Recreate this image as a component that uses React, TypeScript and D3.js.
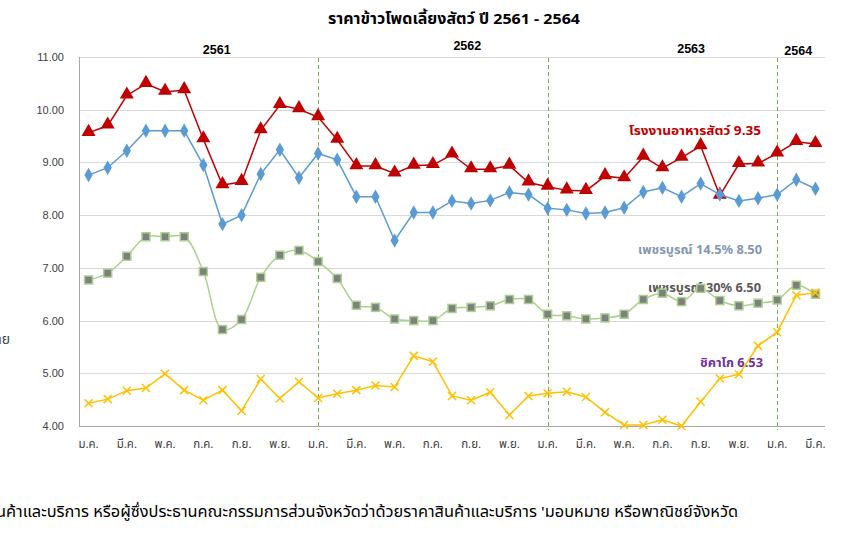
import React from "react";
import * as d3 from "d3";

// Feed corn prices (baht/kg), Jan 2561 - Mar 2564
const years = ["2561", "2562", "2563", "2564"];
const monthNames = ["ม.ค.", "ก.พ.", "มี.ค.", "เม.ย.", "พ.ค.", "มิ.ย.", "ก.ค.", "ส.ค.", "ก.ย.", "ต.ค.", "พ.ย.", "ธ.ค."];
const monthsPerYear = [12, 12, 12, 3];

const factory = [
  9.56, 9.70, 10.27, 10.49, 10.34, 10.37, 9.44, 8.57, 8.63, 9.61, 10.09, 10.01,
  9.86, 9.43, 8.93, 8.93, 8.79, 8.94, 8.95, 9.15, 8.87, 8.87, 8.94, 8.62,
  8.54, 8.47, 8.46, 8.74, 8.70, 9.11, 8.89, 9.09, 9.31, 8.37, 8.97, 8.98,
  9.17, 9.39, 9.35,
];
const phet145 = [
  8.76, 8.90, 9.22, 9.60, 9.60, 9.60, 8.95, 7.83, 8.00, 8.78, 9.24, 8.71,
  9.17, 9.05, 8.35, 8.35, 7.52, 8.05, 8.05, 8.27, 8.22, 8.28, 8.43, 8.39,
  8.13, 8.10, 8.03, 8.05, 8.14, 8.44, 8.52, 8.35, 8.60, 8.39, 8.27, 8.32,
  8.39, 8.67, 8.50,
];
const phet30 = [
  6.77, 6.90, 7.22, 7.59, 7.59, 7.59, 6.93, 5.83, 6.02, 6.82, 7.24, 7.33,
  7.12, 6.80, 6.29, 6.25, 6.03, 6.00, 6.00, 6.23, 6.25, 6.28, 6.40, 6.40,
  6.12, 6.09, 6.03, 6.05, 6.12, 6.40, 6.52, 6.36, 6.61, 6.38, 6.28, 6.33,
  6.39, 6.67, 6.50,
];
const chicago = [
  4.43, 4.51, 4.67, 4.72, 4.99, 4.68, 4.49, 4.68, 4.29, 4.89, 4.52, 4.84,
  4.53, 4.61, 4.68, 4.77, 4.74, 5.33, 5.22, 4.57, 4.49, 4.64, 4.21, 4.57,
  4.62, 4.65, 4.55, 4.26, 4.02, 4.02, 4.12, 4.00, 4.46, 4.90, 4.98, 5.52,
  5.78, 6.48, 6.53,
];
const yTicks = [4, 5, 6, 7, 8, 9, 10, 11];

const categories: string[] = [];
years.forEach((yr, yi) => {
  for (let m = 0; m < monthsPerYear[yi]; m++) categories.push(`${monthNames[m]} ${yr}`);
});

const width = 864;
const height = 551;
const plot = { left: 79, right: 825, top: 57, bottom: 426 };
const thai = "'Noto Sans', 'Noto Sans Thai', Tahoma, 'DejaVu Sans', sans-serif";
const latin = "'Liberation Sans', Arial, sans-serif";

const App = () => {
  const x = d3.scaleBand<string>().domain(categories).range([plot.left, plot.right]);
  const cx = (i: number) => (x(categories[i]) as number) + x.bandwidth() / 2;
  const y = d3.scaleLinear().domain([4, 11]).range([plot.bottom, plot.top]);

  const straight = d3.line<number>().x((_, i) => cx(i)).y((d) => y(d));
  const smooth = d3.line<number>().x((_, i) => cx(i)).y((d) => y(d)).curve(d3.curveCatmullRom.alpha(0.5));

  const tri = d3.symbol().type(d3.symbolTriangle).size(85)() as string;
  const dia = d3.symbol().type(d3.symbolDiamond).size(60)() as string;

  // index of January in each year, and of each year's label
  const janIdx = [12, 24, 36];
  const yearLabels = [
    { text: "2561", i: 6.7, y: 54 },
    { text: "2562", i: 19.8, y: 50 },
    { text: "2563", i: 31.5, y: 53 },
    { text: "2564", i: 37.1, y: 55 },
  ];

  return (
    <svg width={width} height={height} style={{ position: "absolute", left: 0, top: 0, background: "#fff" }}>
      <text x={328} y={24} fontFamily={thai} fontWeight="bold" fontSize={15} fill="#000" textLength={252} lengthAdjust="spacingAndGlyphs">
        ราคาข้าวโพดเลี้ยงสัตว์ ปี 2561 - 2564
      </text>

      {/* grid */}
      {yTicks.map((t) => (
        <g key={t}>
          {t > 4 && <line x1={plot.left} x2={plot.right} y1={Math.round(y(t)) + 0.5} y2={Math.round(y(t)) + 0.5} stroke="#D9D9D9" strokeWidth={1} />}
          <text x={64} y={y(t) + 4} textAnchor="end" fontFamily={latin} fontSize={11} fill="#404040">
            {t.toFixed(2)}
          </text>
        </g>
      ))}
      <line x1={plot.left + 0.5} x2={plot.left + 0.5} y1={plot.top} y2={plot.bottom} stroke="#A6A6A6" />
      <line x1={plot.left} x2={plot.right} y1={plot.bottom + 0.5} y2={plot.bottom + 0.5} stroke="#A6A6A6" />

      {/* month labels */}
      {categories.map((c, i) =>
        i % 2 === 0 ? (
          <text key={c} x={cx(i)} y={448} textAnchor="middle" fontFamily={thai} fontSize={11.5} fill="#404040">
            {c.split(" ")[0]}
          </text>
        ) : null
      )}

      {/* year separators */}
      {janIdx.map((i) => (
        <line key={i} x1={Math.round(cx(i)) + 0.5} x2={Math.round(cx(i)) + 0.5} y1={58} y2={430} stroke="#70AD47" strokeWidth={1} strokeDasharray="4,3" />
      ))}
      {yearLabels.map((l) => (
        <text key={l.text} x={plot.left + x.bandwidth() * (l.i + 0.5)} y={l.y} textAnchor="middle" fontFamily={latin} fontWeight="bold" fontSize={12.5} fill="#000">
          {l.text}
        </text>
      ))}

      {/* series labels */}
      <text x={629} y={135} fontFamily={thai} fontWeight="bold" fontSize={12.5} fill="#C00000" textLength={132} lengthAdjust="spacingAndGlyphs">โรงงานอาหารสัตว์  9.35</text>
      <text x={638} y={254} fontFamily={thai} fontWeight="bold" fontSize={12.5} fill="#8497B0" textLength={124} lengthAdjust="spacingAndGlyphs">เพชรบูรณ์ 14.5%  8.50</text>
      <text x={648} y={292} fontFamily={thai} fontWeight="bold" fontSize={12.5} fill="#595959" textLength={113} lengthAdjust="spacingAndGlyphs">เพชรบูรณ์ 30%  6.50</text>
      <text x={700} y={367} fontFamily={thai} fontWeight="bold" fontSize={12.5} fill="#7030A0" textLength={63} lengthAdjust="spacingAndGlyphs">ชิคาโก 6.53</text>

      {/* red: factory */}
      <path d={straight(factory) as string} fill="none" stroke="#C00000" strokeWidth={1.5} />
      {factory.map((v, i) => (
        <path key={i} d={tri} transform={`translate(${cx(i)},${y(v) - 1})`} fill="#C00000" />
      ))}

      {/* blue: Phetchabun 14.5% */}
      <path d={straight(phet145) as string} fill="none" stroke="#5B9BD5" strokeWidth={1.5} />
      {phet145.map((v, i) => (
        <path key={i} d={dia} transform={`translate(${cx(i)},${y(v)})`} fill="#5B9BD5" />
      ))}

      {/* green: Phetchabun 30% */}
      <path d={smooth(phet30) as string} fill="none" stroke="#A9D18E" strokeWidth={1.5} />
      {phet30.map((v, i) => (
        <rect key={i} x={cx(i) - 4} y={y(v) - 4} width={8} height={8} fill="#7F7F7F" stroke="#A9D18E" strokeWidth={1.5} />
      ))}

      {/* yellow: Chicago */}
      <path d={straight(chicago) as string} fill="none" stroke="#FFC000" strokeWidth={1.5} />
      {chicago.map((v, i) => (
        <path key={i} d={`M${cx(i) - 4},${y(v) - 4}L${cx(i) + 4},${y(v) + 4}M${cx(i) - 4},${y(v) + 4}L${cx(i) + 4},${y(v) - 4}`} stroke="#FFC000" strokeWidth={1.5} />
      ))}

      {/* cut-off text from the page */}
      <text x={10} y={344} textAnchor="end" fontFamily={thai} fontSize={14} fill="#404040">ราคาขาย</text>
      <text x={-4} y={517} fontFamily={thai} fontSize={15} fill="#000" textLength={742} lengthAdjust="spacingAndGlyphs">
        นค้าและบริการ หรือผู้ซึ่งประธานคณะกรรมการส่วนจังหวัดว่าด้วยราคาสินค้าและบริการ 'มอบหมาย หรือพาณิชย์จังหวัด
      </text>
    </svg>
  );
};

export default App;
